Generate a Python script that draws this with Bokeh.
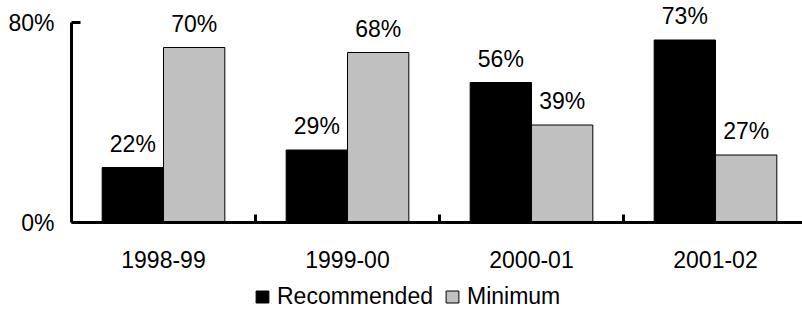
from bokeh.plotting import figure
from bokeh.models import (ColumnDataSource, Range1d, FixedTicker, PrintfTickFormatter,
                          Legend, LegendItem, LinearAxis)
from bokeh.transform import dodge
from bokeh.core.properties import value
from bokeh.embed import file_html
from bokeh.resources import INLINE

categories = ["1998-99", "1999-00", "2000-01", "2001-02"]
recommended = [22, 29, 56, 73]
minimum = [70, 68, 39, 27]
y_ticks = [0, 80]

FONT = "Liberation Sans"
FS = "23px"

xpos = [i + 0.5 for i in range(len(categories))]
src = ColumnDataSource(dict(
    x=xpos,
    rec=recommended,
    mini=minimum,
    rec_lbl=[f"{v}%" for v in recommended],
    mini_lbl=[f"{v}%" for v in minimum],
))

# frame covers the full height; 0 sits at y=222px, 80 at y=22px (2.5 px per unit)
p = figure(width=802, height=309, output_backend="svg", toolbar_location=None,
           x_range=Range1d(0, 731 / 184), y_range=Range1d(-87 / 2.5, 80 + 22 / 2.5),
           min_border_left=71, min_border_right=0, min_border_top=0, min_border_bottom=0,
           outline_line_color=None, background_fill_color="white", border_fill_color="white")
p.xgrid.visible = False
p.ygrid.visible = False
p.xaxis.visible = False
p.yaxis.visible = False

xa = LinearAxis(ticker=FixedTicker(ticks=xpos, minor_ticks=[1, 2, 3]),
                major_label_overrides={x: c for x, c in zip(xpos, categories)},
                fixed_location=0)
xa.axis_line_width = 3
xa.axis_line_color = "black"
xa.major_tick_line_color = None
xa.minor_tick_in = 8
xa.minor_tick_out = 0
xa.minor_tick_line_width = 3
xa.minor_tick_line_color = "black"
xa.major_label_standoff = 22
xa.major_label_text_font = FONT
xa.major_label_text_font_size = FS
xa.major_label_text_color = "black"
p.add_layout(xa, "below")

ya = LinearAxis(ticker=FixedTicker(ticks=y_ticks), formatter=PrintfTickFormatter(format="%d%%"),
                bounds=(0, 80))
ya.axis_line_width = 3
ya.axis_line_color = "black"
ya.major_tick_in = 9
ya.major_tick_out = 0
ya.major_tick_line_width = 3
ya.major_tick_line_color = "black"
ya.minor_tick_line_color = None
ya.major_label_standoff = 17
ya.major_label_text_font = FONT
ya.major_label_text_font_size = FS
ya.major_label_text_color = "black"
p.add_layout(ya, "left")

w = 1 / 3
r1 = p.vbar(x=dodge("x", -w / 2, range=p.x_range), top="rec", width=w, source=src,
            fill_color="black", line_color="black", line_width=1)
r2 = p.vbar(x=dodge("x", w / 2, range=p.x_range), top="mini", width=w, source=src,
            fill_color="#C0C0C0", line_color="black", line_width=1)

p.text(x=dodge("x", -w / 2, range=p.x_range), y="rec", text="rec_lbl", source=src,
       text_align="center", text_baseline="alphabetic", y_offset=-24,
       text_font=value(FONT), text_font_size=FS, text_color="black")
p.text(x=dodge("x", w / 2, range=p.x_range), y="mini", text="mini_lbl", source=src,
       text_align="center", text_baseline="alphabetic", y_offset=-24,
       text_font=value(FONT), text_font_size=FS, text_color="black")

legend = Legend(items=[LegendItem(label="Recommended", renderers=[r1]),
                       LegendItem(label="Minimum", renderers=[r2])],
                orientation="horizontal", location=(183, -1),
                glyph_width=16, glyph_height=15, label_standoff=7, spacing=11,
                padding=0, margin=0, border_line_color=None, background_fill_alpha=0,
                label_text_font=FONT, label_text_font_size=FS, label_text_color="black")
p.add_layout(legend, "center")

open("out.html", "w").write(file_html(p, INLINE))
